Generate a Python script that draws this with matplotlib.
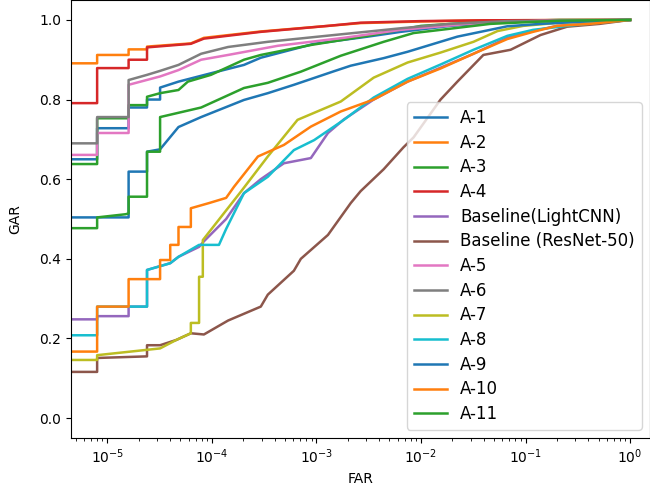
import matplotlib
matplotlib.use("Agg")
import matplotlib.pyplot as plt

# legend labels in plotting order (default colour cycle)
labels = ["A-1", "A-2", "A-3", "A-4", "Baseline(LightCNN)", "Baseline (ResNet-50)",
          "A-5", "A-6", "A-7", "A-8", "A-9", "A-10", "A-11"]

# ROC points: FAR (log axis) and GAR
far_a1 = [1e-6, 8e-6, 8e-6, 1.6e-5, 1.6e-5, 2.4e-5, 2.4e-5, 3.2e-5, 3.2e-5, 4.8e-5, 9.8e-5,
          2.03e-4, 2.94e-4, 9.5e-4, 3.1e-3, 6.4e-3, 1.9e-2, 6.7e-2, 1.0]
gar_a1 = [0.650, 0.650, 0.728, 0.728, 0.780, 0.780, 0.800, 0.800, 0.830, 0.845, 0.866,
          0.887, 0.905, 0.940, 0.958, 0.970, 0.985, 0.995, 1.0]

far_a2 = [1e-6, 8e-6, 8e-6, 1.6e-5, 1.6e-5, 2.4e-5, 2.4e-5, 6.3e-5, 8.4e-5, 2.94e-4, 1.29e-3,
          2.65e-3, 1e-2, 4e-2, 1.0]
gar_a2 = [0.891, 0.891, 0.912, 0.912, 0.926, 0.926, 0.933, 0.941, 0.955, 0.971, 0.985,
          0.992, 0.996, 0.999, 1.0]

far_a3 = [1e-6, 8e-6, 8e-6, 1.6e-5, 1.6e-5, 2.4e-5, 2.4e-5, 3.2e-5, 4.8e-5, 5.9e-5, 9.8e-5,
          2.03e-4, 2.94e-4, 8.85e-4, 3.1e-3, 1e-2, 3.7e-2, 0.21, 1.0]
gar_a3 = [0.638, 0.638, 0.753, 0.753, 0.786, 0.786, 0.807, 0.816, 0.824, 0.845, 0.862,
          0.900, 0.912, 0.937, 0.960, 0.985, 0.995, 1.0, 1.0]

far_a4 = [1e-6, 8e-6, 8e-6, 1.6e-5, 1.6e-5, 2.4e-5, 2.4e-5, 6.3e-5, 8.4e-5, 2.94e-4, 1.29e-3,
          2.65e-3, 1e-2, 4e-2, 1.0]
gar_a4 = [0.791, 0.791, 0.879, 0.879, 0.900, 0.900, 0.931, 0.940, 0.953, 0.970, 0.985,
          0.993, 0.997, 0.999, 1.0]

far_light = [1e-6, 8e-6, 8e-6, 1.6e-5, 1.6e-5, 2.4e-5, 2.4e-5, 4e-5, 4.8e-5, 7.55e-5, 8.4e-5,
             1.37e-4, 2.03e-4, 2.94e-4, 4.89e-4, 8.85e-4, 1.29e-3, 1.83e-3, 3.53e-3, 7.45e-3,
             1.54e-2, 3.18e-2, 6.7e-2, 0.118, 0.2, 0.51, 1.0]
gar_light = [0.248, 0.248, 0.256, 0.256, 0.280, 0.280, 0.372, 0.389, 0.405, 0.430, 0.444,
             0.500, 0.565, 0.600, 0.640, 0.653, 0.716, 0.750, 0.800, 0.845,
             0.880, 0.915, 0.955, 0.972, 0.985, 0.993, 1.0]

far_res = [1e-6, 8e-6, 8e-6, 2.4e-5, 2.4e-5, 3.2e-5, 4.55e-5, 6.3e-5, 8.4e-5, 1.43e-4, 2.94e-4,
           3.43e-4, 6.09e-4, 7.1e-4, 1.29e-3, 2.13e-3, 2.65e-3, 4.4e-3, 6.8e-3, 8.5e-3,
           1.54e-2, 2.23e-2, 3.95e-2, 7.2e-2, 0.139, 0.25, 0.51, 1.0]
gar_res = [0.116, 0.116, 0.151, 0.155, 0.183, 0.183, 0.196, 0.213, 0.210, 0.245, 0.280,
           0.310, 0.370, 0.400, 0.460, 0.540, 0.570, 0.625, 0.680, 0.705,
           0.800, 0.845, 0.912, 0.925, 0.962, 0.983, 0.990, 1.0]

far_a5 = [1e-6, 8e-6, 8e-6, 1.6e-5, 1.6e-5, 3.2e-5, 4.8e-5, 7.9e-5, 1.43e-4, 4.27e-4, 1.83e-3,
          6.4e-3, 2.79e-2, 0.139, 1.0]
gar_a5 = [0.661, 0.661, 0.716, 0.716, 0.837, 0.858, 0.874, 0.900, 0.912, 0.935, 0.955,
          0.975, 0.990, 0.998, 1.0]

far_a6 = [1e-6, 8e-6, 8e-6, 1.6e-5, 1.6e-5, 2.4e-5, 3.2e-5, 4.8e-5, 7.9e-5, 1.43e-4, 3.43e-4,
          1.47e-3, 6.4e-3, 1.9e-2, 6.7e-2, 1.0]
gar_a6 = [0.690, 0.690, 0.756, 0.756, 0.849, 0.862, 0.872, 0.887, 0.915, 0.932, 0.945,
          0.962, 0.979, 0.990, 0.997, 1.0]

far_a7 = [1e-6, 8e-6, 8e-6, 3.2e-5, 4.55e-5, 6.3e-5, 6.3e-5, 7.55e-5, 7.55e-5, 8.2e-5, 8.2e-5,
          1.9e-4, 3.43e-4, 6.6e-4, 1.71e-3, 3.53e-3, 7.45e-3, 1.54e-2, 3.18e-2, 5.4e-2,
          9.5e-2, 0.21, 1.0]
gar_a7 = [0.146, 0.146, 0.158, 0.175, 0.196, 0.213, 0.239, 0.239, 0.355, 0.355, 0.447,
          0.569, 0.657, 0.749, 0.795, 0.855, 0.893, 0.918, 0.945, 0.972,
          0.985, 0.993, 1.0]

far_a8 = [1e-6, 8e-6, 8e-6, 2.4e-5, 2.4e-5, 4e-5, 4.8e-5, 7.55e-5, 1.17e-4, 1.37e-4, 2.03e-4,
          3.43e-4, 6.09e-4, 9.5e-4, 1.83e-3, 3.53e-3, 7.45e-3, 1.54e-2, 3.18e-2, 6.7e-2,
          0.118, 0.25, 0.51, 1.0]
gar_a8 = [0.208, 0.208, 0.280, 0.280, 0.372, 0.389, 0.405, 0.435, 0.435, 0.475, 0.565,
          0.606, 0.673, 0.698, 0.749, 0.805, 0.852, 0.888, 0.925, 0.960,
          0.975, 0.985, 0.993, 1.0]

far_a9 = [1e-6, 1.6e-5, 1.6e-5, 2.4e-5, 2.4e-5, 3.2e-5, 4.8e-5, 7.9e-5, 2.03e-4, 3.43e-4,
          6.09e-4, 1.47e-3, 2.13e-3, 4.4e-3, 7.45e-3, 2.23e-2, 6.7e-2, 0.139, 0.51, 1.0]
gar_a9 = [0.504, 0.504, 0.619, 0.619, 0.669, 0.675, 0.731, 0.756, 0.799, 0.816,
          0.837, 0.871, 0.885, 0.904, 0.920, 0.958, 0.984, 0.990, 0.998, 1.0]

far_a10 = [1e-6, 8e-6, 8e-6, 1.6e-5, 1.6e-5, 3.2e-5, 3.2e-5, 4e-5, 4e-5, 4.8e-5, 4.8e-5,
           6.3e-5, 6.3e-5, 9.4e-5, 1.37e-4, 1.63e-4, 2.76e-4, 4.89e-4, 8.85e-4, 1.71e-3,
           3.53e-3, 7.45e-3, 1.54e-2, 3.18e-2, 6.7e-2, 0.118, 0.2, 0.41, 1.0]
gar_a10 = [0.167, 0.167, 0.280, 0.280, 0.349, 0.349, 0.397, 0.397, 0.435, 0.435, 0.480,
           0.480, 0.527, 0.540, 0.553, 0.581, 0.657, 0.686, 0.732, 0.770,
           0.800, 0.845, 0.878, 0.915, 0.952, 0.970, 0.985, 0.990, 1.0]

far_a11 = [1e-6, 8e-6, 8e-6, 1.5e-5, 1.6e-5, 1.6e-5, 2.4e-5, 2.4e-5, 3.2e-5, 3.2e-5, 7.9e-5,
           2.03e-4, 3.43e-4, 7.1e-4, 1.71e-3, 4.4e-3, 8.5e-3, 1.54e-2, 4.6e-2, 0.21, 1.0]
gar_a11 = [0.477, 0.477, 0.504, 0.512, 0.514, 0.556, 0.556, 0.669, 0.669, 0.756, 0.780,
           0.829, 0.842, 0.870, 0.910, 0.945, 0.967, 0.975, 0.990, 0.998, 1.0]

series = [(far_a1, gar_a1), (far_a2, gar_a2), (far_a3, gar_a3), (far_a4, gar_a4),
          (far_light, gar_light), (far_res, gar_res), (far_a5, gar_a5), (far_a6, gar_a6),
          (far_a7, gar_a7), (far_a8, gar_a8), (far_a9, gar_a9), (far_a10, gar_a10),
          (far_a11, gar_a11)]

fig = plt.figure(figsize=(6.5, 4.98), dpi=100)
ax = fig.add_axes([71 / 650, 60 / 498, 579 / 650, 438 / 498])
for (fx, gy), lab in zip(series, labels):
    ax.plot(fx, gy, lw=1.8, label=lab)

ax.set_xscale("log")
ax.set_xlim(4.5e-6, 1.55)
ax.set_ylim(-0.05, 1.05)
ax.set_xlabel("FAR")
ax.set_ylabel("GAR", labelpad=12)
ax.legend(loc="lower right", fontsize=12, labelspacing=0.4)
fig.savefig("out.png", dpi=100)
